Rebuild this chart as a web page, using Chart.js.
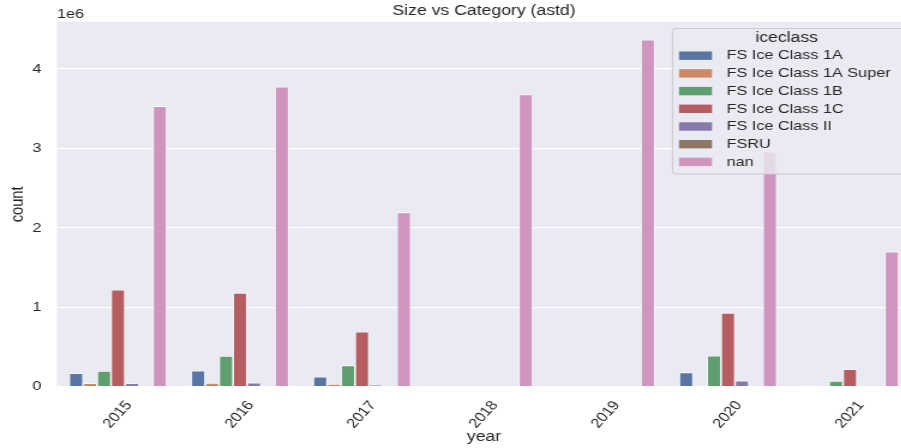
<!DOCTYPE html>
<html>
<head>
<meta charset="utf-8">
<script src="https://cdn.jsdelivr.net/npm/chart.js@4.4.1/dist/chart.umd.min.js"></script>
<style>
  html, body { margin: 0; padding: 0; background: #ffffff; overflow: hidden; width: 901px; height: 448px; }
  #wrap { position: absolute; left: 0; top: 0; transform-origin: 0 0; }
</style>
</head>
<body>
<div id="wrap"><canvas id="chart"></canvas></div>
<script>
// Categories and per-class values (counts)
const years = ['2015', '2016', '2017', '2018', '2019', '2020', '2021'];
const iceClasses = ['FS Ice Class 1A', 'FS Ice Class 1A Super', 'FS Ice Class 1B', 'FS Ice Class 1C', 'FS Ice Class II', 'FSRU', 'nan'];
const class1A      = [169000, 201000, 126000, 0, 0, 181000, 12000];
const class1ASuper = [43000, 47000, 34000, 0, 0, 13000, 0];
const class1B      = [198000, 386000, 269000, 0, 0, 390000, 72000];
const class1C      = [1221000, 1180000, 692000, 0, 0, 928000, 219000];
const classII      = [43000, 50000, 21000, 0, 0, 76000, 8000];
const classFSRU    = [0, 0, 0, 0, 0, 0, 0];
const classNan     = [3534000, 3777000, 2196000, 3681000, 4369000, 2959000, 1700000];
const yTicks = [0, 1, 2, 3, 4];   // in units of 1e6

const seriesValues = [class1A, class1ASuper, class1B, class1C, classII, classFSRU, classNan];
// seaborn "deep" palette, desaturated as barplot does
const palette = ['#5975A4', '#CC8963', '#5F9E6E', '#B55D60', '#857AAB', '#8D7866', '#D095BF'];

// The drawing is laid out narrow and widened horizontally by STRETCH.
const STRETCH = 1.2;
const W = Math.ceil(916 / STRETCH), H = 448;
const plotLeft = 57 / STRETCH, plotRight = 911 / STRETCH, plotTop = 22, plotBottom = 386.7;
const FONT = "'Liberation Sans', Arial, sans-serif";
const INK = '#262626';
const TICK_PX = 13.5, LABEL_PX = 14.7;

const wrap = document.getElementById('wrap');
wrap.style.width = W + 'px';
wrap.style.height = H + 'px';
wrap.style.transform = 'scaleX(' + STRETCH + ')';
const canvas = document.getElementById('chart');
canvas.width = W; canvas.height = H;

const yMax = 4.593e6;

// Plot background, title and offset label
const frame = {
  id: 'frame',
  beforeDraw(chart) {
    const { ctx, chartArea: a } = chart;
    ctx.save();
    ctx.fillStyle = '#ffffff';
    ctx.fillRect(0, 0, chart.width, chart.height);
    ctx.fillStyle = '#EAEAF2';
    ctx.fillRect(a.left, a.top, a.right - a.left, a.bottom - a.top);
    ctx.restore();
  },
  afterDraw(chart) {
    const { ctx, chartArea: a } = chart;
    ctx.save();
    ctx.fillStyle = INK;
    ctx.textBaseline = 'middle';
    ctx.textAlign = 'center';
    ctx.font = LABEL_PX + 'px ' + FONT;
    ctx.fillText('Size vs Category (astd)', (a.left + a.right) / 2, 10.7);
    ctx.textAlign = 'left';
    ctx.font = TICK_PX + 'px ' + FONT;
    ctx.fillText('1e6', a.left, 14.5);
    ctx.restore();
  }
};

// Legend box with title
const iceLegend = {
  id: 'iceLegend',
  afterDraw(chart) {
    const ctx = chart.ctx;
    const x0 = 672.5 / STRETCH, y0 = 28.5, x1 = 912 / STRETCH, y1 = 174;
    const r = 3;
    ctx.save();
    ctx.beginPath();
    ctx.moveTo(x0 + r, y0);
    ctx.lineTo(x1 - r, y0);
    ctx.quadraticCurveTo(x1, y0, x1, y0 + r);
    ctx.lineTo(x1, y1 - r);
    ctx.quadraticCurveTo(x1, y1, x1 - r, y1);
    ctx.lineTo(x0 + r, y1);
    ctx.quadraticCurveTo(x0, y1, x0, y1 - r);
    ctx.lineTo(x0, y0 + r);
    ctx.quadraticCurveTo(x0, y0, x0 + r, y0);
    ctx.closePath();
    ctx.fillStyle = 'rgba(234,234,242,0.8)';
    ctx.fill();
    ctx.strokeStyle = '#cccccc';
    ctx.lineWidth = 1;
    ctx.stroke();

    ctx.fillStyle = INK;
    ctx.textBaseline = 'middle';
    ctx.textAlign = 'center';
    ctx.font = LABEL_PX + 'px ' + FONT;
    ctx.fillText('iceclass', 786.7 / STRETCH, 37.5);

    ctx.font = TICK_PX + 'px ' + FONT;
    ctx.textAlign = 'left';
    chart.data.datasets.forEach((ds, i) => {
      const cy = 55.7 + i * 17.7;
      ctx.fillStyle = ds.backgroundColor;
      ctx.fillRect(679 / STRETCH, cy - 4.2, 33 / STRETCH, 8.4);
      ctx.fillStyle = INK;
      ctx.fillText(ds.label, 726.7 / STRETCH, cy);
    });
    ctx.restore();
  }
};

new Chart(canvas, {
  type: 'bar',
  data: {
    labels: years,
    datasets: iceClasses.map((name, i) => ({
      label: name,
      data: seriesValues[i],
      backgroundColor: palette[i],
      borderColor: '#ffffff',
      borderWidth: 0.8,
      borderSkipped: 'bottom',
      categoryPercentage: 0.8,
      barPercentage: 1.0
    }))
  },
  options: {
    responsive: false,
    animation: false,
    layout: { padding: { left: 0, top: plotTop, right: W - plotRight, bottom: 0 } },
    plugins: {
      legend: { display: false },
      title: { display: false },
      tooltip: { enabled: false }
    },
    scales: {
      x: {
        type: 'category',
        offset: true,
        grid: { display: false, drawTicks: false },
        border: { display: false },
        ticks: {
          color: INK,
          font: { family: FONT, size: TICK_PX },
          minRotation: 52,
          maxRotation: 52,
          autoSkip: false,
          padding: 11,
          labelOffset: 9
        },
        title: {
          display: true,
          text: 'year',
          color: INK,
          font: { family: FONT, size: LABEL_PX },
          padding: { top: 0, bottom: 2 }
        },
        afterFit(scale) { scale.height = H - plotBottom; }
      },
      y: {
        min: 0,
        max: yMax,
        grid: { color: '#ffffff', lineWidth: 1.2, drawTicks: false },
        border: { display: false },
        ticks: {
          color: INK,
          font: { family: FONT, size: TICK_PX },
          padding: 13,
          stepSize: 1e6,
          callback: (v) => String(v / 1e6)
        },
        afterBuildTicks(scale) {
          scale.ticks = yTicks.map(t => ({ value: t * 1e6 }));
        },
        title: {
          display: true,
          text: 'count',
          color: INK,
          font: { family: FONT, size: LABEL_PX },
          padding: { top: 6, bottom: 0 }
        },
        afterFit(scale) { scale.width = plotLeft; }
      }
    }
  },
  plugins: [frame, iceLegend]
});
</script>
</body>
</html>
